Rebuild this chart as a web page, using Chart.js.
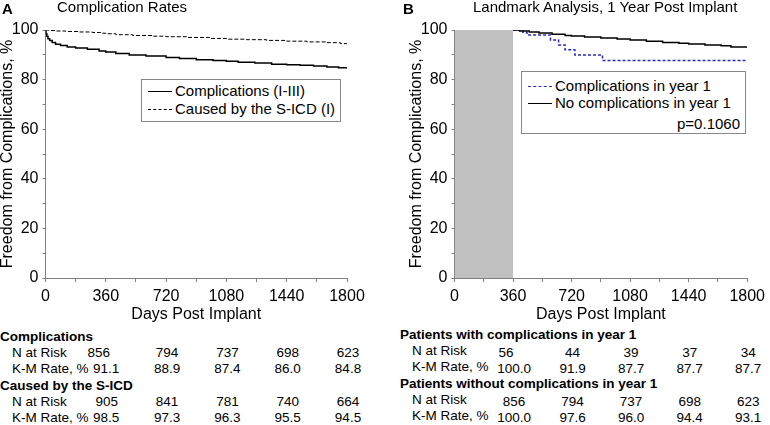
<!DOCTYPE html>
<html>
<head>
<meta charset="utf-8">
<script src="https://cdn.jsdelivr.net/npm/chart.js@4"></script>
<style>
body { margin: 0; width: 770px; height: 425px; overflow: hidden; background: #fff; font-family: "Liberation Sans", Arial, sans-serif; color: #000; position: relative; }
canvas { position: absolute; top: 0; }
.t { position: absolute; white-space: nowrap; line-height: 16px; height: 16px; }
.c { transform: translateX(-50%); }
.b { font-weight: bold; }
.legend { position: absolute; border: 1px solid #888; background: #fff; font-size: 15px; }
.legend .row { position: absolute; white-space: nowrap; line-height: 16px; }
.legend .smp { display: inline-block; width: 24px; vertical-align: middle; margin-right: 3px; position: relative; top: -1px; }
</style>
</head>
<body>
<canvas id="chartA" width="385" height="324" style="left:0"></canvas>
<canvas id="chartB" width="361" height="324" style="left:409px"></canvas>
<div id="overlay"></div>
<script>
// panel A: Kaplan-Meier curves
const daysComp = [0, 3, 8, 15, 25, 40, 60, 90, 130, 180, 250, 320, 360, 420, 500, 600, 720, 800, 900, 1000, 1080, 1150, 1250, 1350, 1440, 1520, 1600, 1680, 1750, 1800];
const rateComp = [100, 98.5, 97.5, 96.5, 95.8, 95.0, 94.3, 93.7, 93.1, 92.7, 92.2, 91.5, 91.1, 90.5, 89.9, 89.5, 88.9, 88.5, 88.0, 87.7, 87.4, 87.0, 86.7, 86.2, 86.0, 85.8, 85.5, 85.1, 84.8, 84.8];
const daysSicd = [0, 20, 60, 120, 200, 280, 330, 360, 420, 520, 640, 720, 850, 980, 1080, 1200, 1320, 1440, 1560, 1680, 1760, 1800];
const rateSicd = [100, 99.8, 99.6, 99.4, 99.2, 99.0, 98.7, 98.5, 98.1, 97.8, 97.5, 97.3, 97.0, 96.6, 96.3, 96.1, 95.8, 95.5, 95.2, 94.9, 94.5, 94.5];

// panel B: landmark analysis from day 360
const landmarkDays = [0, 360];
const landmarkTop = [101, 101];
const daysNoComp = [360, 400, 460, 520, 600, 680, 720, 800, 900, 1000, 1080, 1180, 1280, 1380, 1440, 1540, 1640, 1700, 1800];
const rateNoComp = [100, 99.6, 99.2, 98.8, 98.3, 97.8, 97.6, 97.2, 96.8, 96.4, 96.0, 95.5, 95.0, 94.7, 94.4, 94.0, 93.6, 93.1, 93.1];
const daysWithComp = [360, 420, 446, 590, 640, 680, 740, 910, 1800];
const rateWithComp = [100, 99.1, 98.0, 96.0, 94.0, 92.0, 89.9, 87.7, 87.7];

// risk tables (columns at 360, 720, 1080, 1440, 1800 days)
const riskDays = [360, 720, 1080, 1440, 1800];
const riskA = [
    { head: "Complications", n: ["856", "794", "737", "698", "623"], km: ["91.1", "88.9", "87.4", "86.0", "84.8"] },
    { head: "Caused by the S-ICD", n: ["905", "841", "781", "740", "664"], km: ["98.5", "97.3", "96.3", "95.5", "94.5"] }
];
const riskB = [
    { head: "Patients with complications in year 1", n: ["56", "44", "39", "37", "34"], km: ["100.0", "91.9", "87.7", "87.7", "87.7"] },
    { head: "Patients without complications in year 1", n: ["856", "794", "737", "698", "623"], km: ["100.0", "97.6", "96.0", "94.4", "93.1"] }
];

const FONT = "'Liberation Sans', Arial, sans-serif";
const AXIS = "#808080";

function pts(xs, ys) {
    return xs.map((x, i) => ({ x: x, y: ys[i] }));
}

function kmLine(xs, ys, color, width, dash) {
    return {
        data: pts(xs, ys),
        borderColor: color,
        borderWidth: width,
        borderDash: dash,
        stepped: "before",
        pointRadius: 0,
        fill: false
    };
}

function makeChart(id, datasets, padRight) {
    return new Chart(document.getElementById(id), {
        type: "line",
        data: { datasets: datasets },
        options: {
            responsive: false,
            animation: false,
            devicePixelRatio: 1,
            layout: { padding: { top: 30, right: padRight, left: 0, bottom: 0 } },
            plugins: { legend: { display: false }, tooltip: { enabled: false } },
            scales: {
                x: {
                    type: "linear", min: 0, max: 1800,
                    afterFit: s => { s.height = 46; },
                    ticks: {
                        stepSize: 180, autoSkip: false, maxRotation: 0, padding: 5,
                        color: "#000", font: { family: FONT, size: 16 },
                        callback: v => v % 360 === 0 ? v : ""
                    },
                    grid: { drawOnChartArea: false, tickLength: 4, color: AXIS },
                    border: { color: AXIS, width: 1 },
                    title: { display: true, text: "Days Post Implant", color: "#000", padding: 0, font: { family: FONT, size: 16 } }
                },
                y: {
                    min: 0, max: 100,
                    afterFit: s => { s.width = 45.5; },
                    ticks: {
                        stepSize: 10, autoSkip: false, padding: 4,
                        color: "#000", font: { family: FONT, size: 16 },
                        callback: v => v % 20 === 0 ? v : ""
                    },
                    grid: { drawOnChartArea: false, tickLength: 3, color: AXIS },
                    border: { color: AXIS, width: 1 },
                    title: { display: true, text: "Freedom from Complications, %", color: "#000", padding: 0, font: { family: FONT, size: 16, lineHeight: 1 } }
                }
            }
        }
    });
}

const chartA = makeChart("chartA", [
    kmLine(daysComp, rateComp, "#000", 1.5, []),
    kmLine(daysSicd, rateSicd, "#000", 1, [4, 2])
], 38);

const chartB = makeChart("chartB", [
    {
        data: pts(landmarkDays, landmarkTop),
        borderWidth: 0,
        pointRadius: 0,
        backgroundColor: "#c0c0c0",
        fill: "origin",
        clip: { left: 0, right: 0, top: 4, bottom: 0 }
    },
    kmLine(daysNoComp, rateNoComp, "#000", 1.5, []),
    kmLine(daysWithComp, rateWithComp, "#2a2ac0", 1.5, [3, 2])
], 15);

const overlay = document.getElementById("overlay");

function text(str, x, y, size, cls) {
    const d = document.createElement("div");
    d.className = "t " + (cls || "");
    d.style.left = x + "px";
    d.style.top = (y - 8) + "px";
    d.style.fontSize = size + "px";
    d.textContent = str;
    overlay.appendChild(d);
}

// titles
text("A", 2, 9, 15, "b");
text("Complication Rates", 57, 6.5, 15);
text("B", 403, 9, 15, "b");
text("Landmark Analysis, 1 Year Post Implant", 473, 6.5, 15);

function legend(x, y, w, h, rows, extra) {
    const box = document.createElement("div");
    box.className = "legend";
    box.style.left = x + "px";
    box.style.top = y + "px";
    box.style.width = w + "px";
    box.style.height = h + "px";
    rows.forEach(r => {
        const row = document.createElement("div");
        row.className = "row";
        row.style.left = "6px";
        row.style.top = r.top + "px";
        row.innerHTML = '<span class="smp" style="border-top:' + r.line + '"></span>' + r.label;
        box.appendChild(row);
    });
    if (extra) {
        const p = document.createElement("div");
        p.className = "row";
        p.style.right = "5px";
        p.style.top = extra.top + "px";
        p.textContent = extra.label;
        box.appendChild(p);
    }
    overlay.appendChild(box);
}

legend(141, 79, 198, 41, [
    { label: "Complications (I-III)", line: "1.5px solid #000", top: 3 },
    { label: "Caused by the S-ICD (I)", line: "1px dashed #000", top: 21 }
]);

legend(521, 71, 223, 61, [
    { label: "Complications in year 1", line: "1.5px dashed #2a2ac0", top: 6 },
    { label: "No complications in year 1", line: "1.5px solid #000", top: 23 }
], { label: "p=0.1060", top: 44 });

// risk table columns sit under the x ticks of each chart
function riskTable(chart, groups, headX, labelX, rowsY, valueShift, firstKmLeft) {
    const xs = chart.scales.x;
    const left = chart.canvas.offsetLeft;
    const cols = riskDays.map(d => left + xs.getPixelForValue(d));
    let r = 0;
    groups.forEach((g, gi) => {
        text(g.head, headX, rowsY[r++], 13.5, "b");
        let y = rowsY[r++];
        text("N at Risk", labelX, y, 13.5);
        g.n.forEach((v, i) => text(v, cols[i] - (gi === 0 && i === 0 ? 8 : 0) + 1, y + valueShift, 13.5, "c"));
        y = rowsY[r++];
        text("K-M Rate, %", labelX, y, 13.5);
        g.km.forEach((v, i) => {
            if (i === 0 && firstKmLeft) text(v, firstKmLeft, y + valueShift, 13.5);
            else text(v, cols[i] + 1, y + valueShift, 13.5, "c");
        });
    });
}

riskTable(chartA, riskA, 0, 12, [337, 353, 369, 386, 402, 418], 0, 93);
riskTable(chartB, riskB, 400, 412, [335, 351, 367, 384, 400, 416], 1.5, 0);
</script>
</body>
</html>
